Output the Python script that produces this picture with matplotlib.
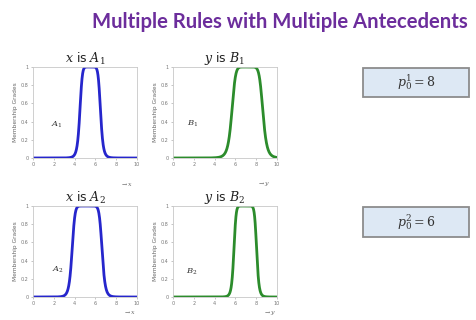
import numpy as np
import matplotlib
matplotlib.use("Agg")
import matplotlib.pyplot as plt
from matplotlib.patches import FancyBboxPatch

plt.rcParams['mathtext.fontset'] = 'dejavuserif'

# Generalized bell membership functions: (center, half-width, slope)
centers = [5.5, 7.15, 5.2, 6.95]
widths = [1.0, 1.5, 1.45, 1.1]
slopes = [4.0, 4.0, 5.0, 5.0]
titles = [r"$x$ is $A_1$", r"$y$ is $B_1$", r"$x$ is $A_2$", r"$y$ is $B_2$"]
inner_labels = [r"$A_1$", r"$B_1$", r"$A_2$", r"$B_2$"]
inner_pos = [(2.3, 0.36), (1.9, 0.38), (2.4, 0.30), (1.8, 0.28)]
axis_arrows = [r"$\rightarrow x$", r"$\rightarrow y$", r"$\rightarrow x$", r"$\rightarrow y$"]
colors = ['#2626cc', '#2c8c2c', '#2626cc', '#2c8c2c']
consequents = [r"$p_0^1 = 8$", r"$p_0^2 = 6$"]
x_ticks = [0, 2, 4, 6, 8, 10]
y_ticks = [0, 0.2, 0.4, 0.6, 0.8, 1]
y_ticklabels = ["0", "0.2", "0.4", "0.6", "0.8", "1"]

W, H = 476, 320
fig = plt.figure(figsize=(W / 100, H / 100), dpi=100)

fig.text(280 / W, 1 - 22 / H, "Multiple Rules with Multiple Antecedents",
         ha='center', va='center', fontsize=14.6, fontweight='bold',
         color='#6c2d9c', family='Lato')

# axes boxes in pixels: left, top, right, bottom
boxes = [(33, 67, 137, 158), (173, 67, 277, 158),
         (33, 206, 137, 297), (173, 206, 277, 297)]
# pixel position of each axis-direction arrow label
arrow_px = [(127, 184), (264, 184), (130, 313), (270, 313)]

xs = np.linspace(0, 10, 801)
for i, (l, t, r, b) in enumerate(boxes):
    ax = fig.add_axes([l / W, 1 - b / H, (r - l) / W, (b - t) / H])
    mu = 1.0 / (1.0 + np.abs((xs - centers[i]) / widths[i]) ** (2 * slopes[i]))
    ax.plot(xs, mu, color=colors[i], lw=2.0, solid_capstyle='round')
    ax.set_xlim(0, 10)
    ax.set_ylim(0, 1)
    ax.set_xticks(x_ticks)
    ax.set_yticks(y_ticks)
    ax.set_yticklabels(y_ticklabels)
    ax.tick_params(labelsize=3.5, length=1.5, width=0.4, colors='#999999',
                   pad=1.5, labelcolor='#777777')
    for s in ax.spines.values():
        s.set_color('#c8c8c8')
        s.set_linewidth(0.6)
    ax.set_ylabel("Membership Grades", fontsize=4.2, color='#666666', labelpad=2)
    ax.set_title(titles[i], fontsize=9, pad=1.5, color='#222222')
    ax.text(inner_pos[i][0], inner_pos[i][1], inner_labels[i], fontsize=6,
            color='#333333', ha='center', va='center')
    fig.text(arrow_px[i][0] / W, 1 - arrow_px[i][1] / H, axis_arrows[i],
             fontsize=4.5, color='#666666', ha='center', va='center')

# consequent parameter boxes
cboxes = [(363, 68, 469, 97), (363, 207, 469, 237)]
for (l, t, r, b), txt in zip(cboxes, consequents):
    patch = FancyBboxPatch((l / W, 1 - b / H), (r - l) / W, (b - t) / H,
                           boxstyle='square,pad=0', transform=fig.transFigure,
                           facecolor='#dde8f4', edgecolor='#8c8c8c', lw=1.3)
    fig.add_artist(patch)
    fig.text((l + r) / 2 / W, 1 - (t + b) / 2 / H, txt, ha='center',
             va='center', fontsize=9, color='#333333')

fig.savefig("out.png", dpi=100, facecolor='white')
